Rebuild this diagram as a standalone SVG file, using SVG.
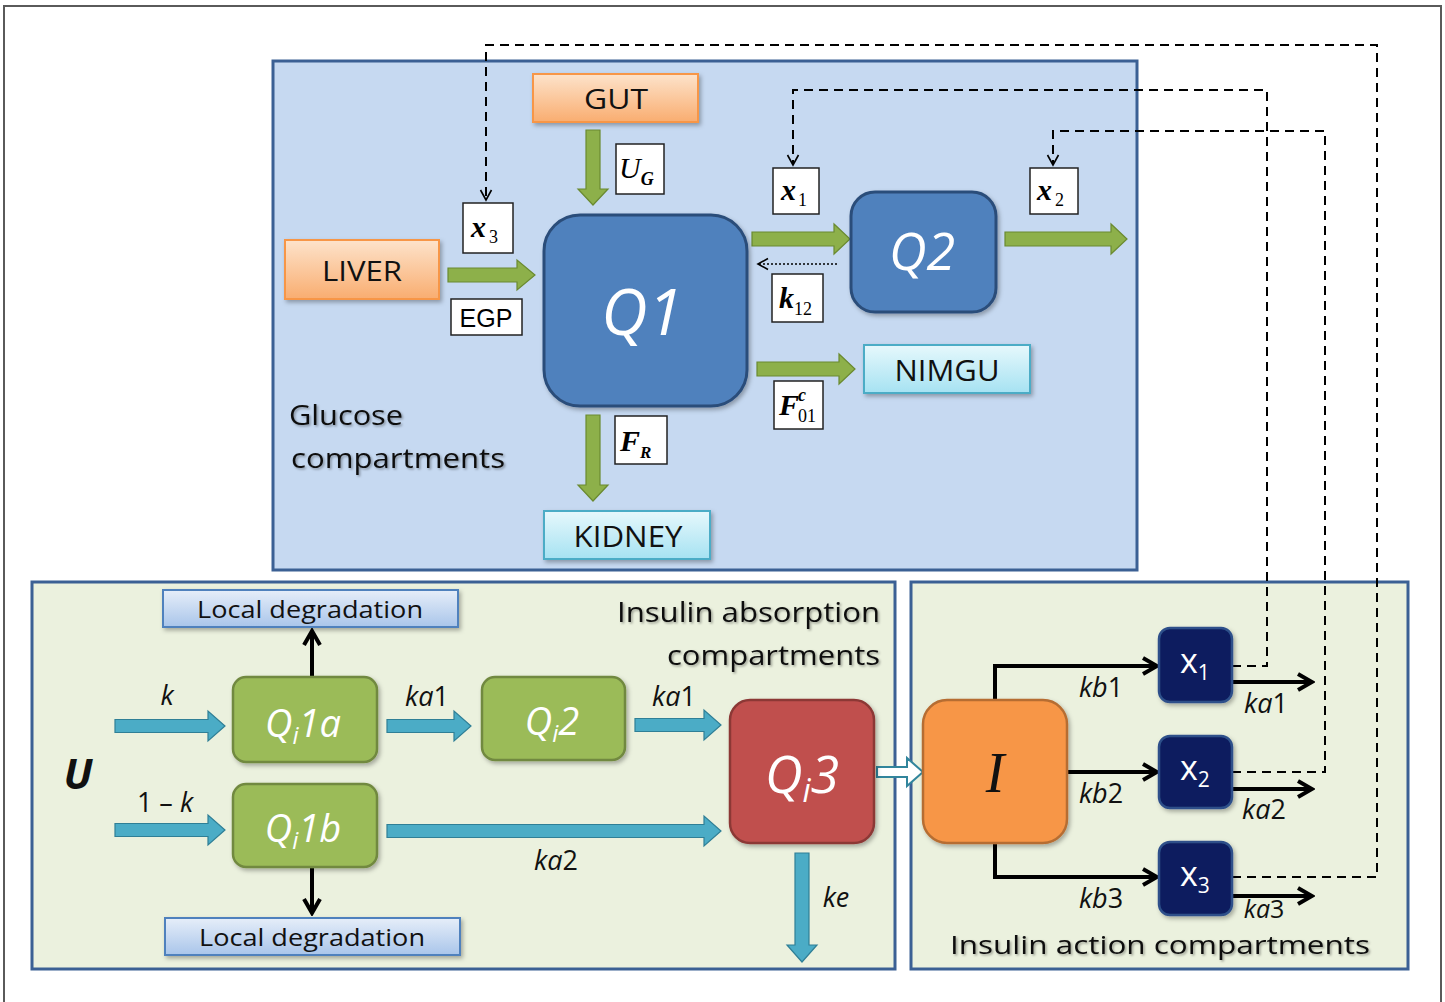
<svg xmlns="http://www.w3.org/2000/svg" width="1445" height="1002" viewBox="0 0 1445 1002">
<defs>
<linearGradient id="gOr" x1="0" y1="0" x2="0" y2="1"><stop offset="0" stop-color="#fde3cb"/><stop offset="1" stop-color="#f9ad70"/></linearGradient>
<linearGradient id="gCy" x1="0" y1="0" x2="0" y2="1"><stop offset="0" stop-color="#e6f8fc"/><stop offset="1" stop-color="#a6e2f2"/></linearGradient>
<linearGradient id="gBl" x1="0" y1="0" x2="0" y2="1"><stop offset="0" stop-color="#e6eef9"/><stop offset="1" stop-color="#a9c5ea"/></linearGradient>
<filter id="sh" x="-10%" y="-10%" width="125%" height="130%"><feDropShadow dx="2" dy="2.5" stdDeviation="2" flood-color="#000" flood-opacity="0.3"/></filter>
<filter id="tsh" x="-5%" y="-20%" width="110%" height="150%"><feDropShadow dx="1.5" dy="1.5" stdDeviation="1.2" flood-color="#000" flood-opacity="0.35"/></filter>
<marker id="chev" viewBox="0 0 20 20" refX="17" refY="10" markerWidth="20" markerHeight="20" markerUnits="userSpaceOnUse" orient="auto"><path d="M3,2 L17,10 L3,18" fill="none" stroke="#000" stroke-width="4"/></marker>
<marker id="dchev" viewBox="0 0 14 14" refX="12" refY="7" markerWidth="14" markerHeight="14" markerUnits="userSpaceOnUse" orient="auto"><path d="M2,1.5 L12,7 L2,12.5" fill="none" stroke="#000" stroke-width="1.6"/></marker>
<style>
.frame{fill:#fff;stroke:#5a5a5a;stroke-width:2}
.gpanel{fill:#c6d9f1;stroke:#3b6094;stroke-width:3}
.ipanel{fill:#ebf1de;stroke:#3b6094;stroke-width:3}
.orange{fill:url(#gOr);stroke:#f79646;stroke-width:2}
.cyan{fill:url(#gCy);stroke:#4bacc6;stroke-width:2}
.ldeg{fill:url(#gBl);stroke:#4f81bd;stroke-width:2}
.qblue{fill:#4f81bd;stroke:#2c4d7a;stroke-width:3}
.qgreen{fill:#9bbb59;stroke:#71893f;stroke-width:2.5}
.qred{fill:#c0504d;stroke:#8c3836;stroke-width:2.5}
.iorange{fill:#f79646;stroke:#b66d31;stroke-width:2.5}
.xnavy{fill:#0c1f5e;stroke:#2d4f8a;stroke-width:2.5}
.mbox{fill:#fff;stroke:#222;stroke-width:1.5}
.garrow{fill:#8db04a;stroke:#6a8a30;stroke-width:1.2}
.barrow{fill:#4bacc6;stroke:#2f7f96;stroke-width:1.2}
.harrow{fill:#fff;stroke:#31859c;stroke-width:2}
.blk{fill:none;stroke:#000;stroke-width:4}
.dash{fill:none;stroke:#000;stroke-width:2;stroke-dasharray:9 6}
.dot{fill:none;stroke:#000;stroke-width:1.6;stroke-dasharray:2 2}
.lbl{font-family:"Open Sans","Liberation Sans",sans-serif;fill:#111}
.it{font-family:"Open Sans","Liberation Sans",sans-serif;font-style:italic;fill:#111;font-size:27px}
.qt{font-family:"Open Sans","Liberation Sans",sans-serif;font-style:italic;fill:#fff;text-anchor:middle}
.math{font-family:"Liberation Serif",serif;font-weight:bold;font-style:italic;fill:#000;font-size:30px}
.sub{font-family:"Liberation Serif",serif;font-weight:normal;font-style:normal;font-size:18px}
</style>
</defs>

<rect class="frame" x="4" y="6" width="1437" height="1010"/>

<g id="panel-glucose"><rect class="gpanel" x="273" y="61" width="864" height="509"/></g>
<g id="panel-absorption"><rect class="ipanel" x="32" y="582" width="863" height="387"/></g>
<g id="panel-action"><rect class="ipanel" x="911" y="582" width="497" height="387"/></g>

<g id="connectors">
  <polygon class="garrow" points="600,130 600,189 608,189 593,205 578,189 586,189 586,130"/>
  <polygon class="garrow" points="448,268 517,268 517,260 535,275 517,290 517,282 448,282"/>
  <polygon class="garrow" points="752,232 834,232 834,224 850,239 834,254 834,246 752,246"/>
  <polygon class="garrow" points="1005,232 1111,232 1111,224 1127,239 1111,254 1111,246 1005,246"/>
  <polygon class="garrow" points="757,362 839,362 839,354 855,369 839,384 839,376 757,376"/>
  <polygon class="garrow" points="586,415 586,485 578,485 593,501 608,485 600,485 600,415"/>
  <path class="dot" d="M837,264 H758" marker-end="url(#dchev)"/>

  <path class="dash" d="M1232,877 H1377 V45 H486 V200" marker-end="url(#dchev)"/>
  <path class="dash" d="M1232,666 H1267 V90 H793 V165" marker-end="url(#dchev)"/>
  <path class="dash" d="M1232,772 H1325 V131 H1053 V165" marker-end="url(#dchev)"/>

  <polygon class="barrow" points="115,719.5 208,719.5 208,711 225,726 208,741 208,732.5 115,732.5"/>
  <polygon class="barrow" points="387,719.5 454,719.5 454,711 471,726 454,741 454,732.5 387,732.5"/>
  <polygon class="barrow" points="635,718.5 704,718.5 704,710 721,725 704,740 704,731.5 635,731.5"/>
  <polygon class="barrow" points="115,823.5 208,823.5 208,815 225,830 208,845 208,836.5 115,836.5"/>
  <polygon class="barrow" points="387,824.5 704,824.5 704,816 721,831 704,846 704,837.5 387,837.5"/>
  <polygon class="barrow" points="795,853 795,945 787,945 802,962 817,945 809,945 809,853"/>
  <polygon class="harrow" points="877,767 907,767 907,758 923,772 907,786 907,777 877,777"/>

  <path class="blk" d="M312,676 V631" marker-end="url(#chev)"/>
  <path class="blk" d="M312,868 V913" marker-end="url(#chev)"/>

  <path class="blk" d="M995,701 V666 H1157" marker-end="url(#chev)"/>
  <path class="blk" d="M1067,772 H1157" marker-end="url(#chev)"/>
  <path class="blk" d="M995,843 V877 H1157" marker-end="url(#chev)"/>
  <path class="blk" d="M1232,682 H1312" marker-end="url(#chev)"/>
  <path class="blk" d="M1232,789 H1312" marker-end="url(#chev)"/>
  <path class="blk" d="M1232,896 H1312" marker-end="url(#chev)"/>
</g>

<g id="gut"><rect class="orange" x="533" y="74" width="165" height="48" filter="url(#sh)"/><text class="lbl" x="616" y="109" font-size="27" text-anchor="middle" textLength="64" lengthAdjust="spacingAndGlyphs">GUT</text></g>
<g id="liver"><rect class="orange" x="285" y="240" width="154" height="59" filter="url(#sh)"/><text class="lbl" x="362" y="281" font-size="27" text-anchor="middle" textLength="80" lengthAdjust="spacingAndGlyphs">LIVER</text></g>
<g id="q1"><rect class="qblue" x="544" y="215" width="203" height="191" rx="36" filter="url(#sh)"/><text class="qt" x="642" y="335" font-size="64">Q1</text></g>
<g id="q2"><rect class="qblue" x="851" y="192" width="145" height="120" rx="24" filter="url(#sh)"/><text class="qt" x="922" y="270" font-size="52">Q2</text></g>
<g id="nimgu"><rect class="cyan" x="864" y="345" width="166" height="48" filter="url(#sh)"/><text class="lbl" x="947" y="381" font-size="29" text-anchor="middle" textLength="105" lengthAdjust="spacingAndGlyphs">NIMGU</text></g>
<g id="kidney"><rect class="cyan" x="544" y="511" width="166" height="48" filter="url(#sh)"/><text class="lbl" x="628" y="547" font-size="29" text-anchor="middle" textLength="109" lengthAdjust="spacingAndGlyphs">KIDNEY</text></g>

<g id="lbl-ug"><rect class="mbox" x="616" y="144" width="48" height="50"/><text class="math" x="619" y="178" style="font-weight:normal">U<tspan class="sub" dy="7" style="font-style:italic;font-weight:bold" font-size="17">G</tspan></text></g>
<g id="lbl-x3"><rect class="mbox" x="463" y="203" width="50" height="50"/><text class="math" x="471" y="237">x<tspan class="sub" dx="3" dy="6">3</tspan></text></g>
<g id="lbl-egp"><rect class="mbox" x="451" y="299" width="71" height="36"/><text x="486" y="327" font-family="Liberation Sans, Arial, sans-serif" font-size="25" text-anchor="middle" fill="#000">EGP</text></g>
<g id="lbl-x1"><rect class="mbox" x="773" y="168" width="46" height="46"/><text class="math" x="781" y="200">x<tspan class="sub" dx="2" dy="6">1</tspan></text></g>
<g id="lbl-k12"><rect class="mbox" x="772" y="274" width="51" height="48"/><text class="math" x="779" y="308">k<tspan class="sub" dy="7">12</tspan></text></g>
<g id="lbl-x2"><rect class="mbox" x="1030" y="168" width="48" height="46"/><text class="math" x="1037" y="200">x<tspan class="sub" dx="3" dy="6">2</tspan></text></g>
<g id="lbl-f01"><rect class="mbox" x="774" y="381" width="49" height="48"/><text class="math" x="779" y="415">F<tspan class="sub" dx="-1" dy="-14" style="font-style:italic;font-weight:bold" font-size="14">c</tspan><tspan class="sub" dx="-8" dy="21" font-size="16">01</tspan></text></g>
<g id="lbl-fr"><rect class="mbox" x="615" y="416" width="52" height="48"/><text class="math" x="620" y="451">F<tspan font-size="17" dy="7">R</tspan></text></g>

<text class="lbl" x="289" y="425" font-size="28" filter="url(#tsh)" textLength="114" lengthAdjust="spacingAndGlyphs">Glucose</text>
<text class="lbl" x="291" y="468" font-size="28" filter="url(#tsh)" textLength="214" lengthAdjust="spacingAndGlyphs">compartments</text>

<g id="ldeg-top"><rect class="ldeg" x="163" y="590" width="295" height="37" filter="url(#sh)"/><text class="lbl" x="310" y="618" font-size="23" text-anchor="middle" textLength="226" lengthAdjust="spacingAndGlyphs">Local degradation</text></g>
<g id="ldeg-bot"><rect class="ldeg" x="165" y="918" width="295" height="37" filter="url(#sh)"/><text class="lbl" x="312" y="946" font-size="23" text-anchor="middle" textLength="226" lengthAdjust="spacingAndGlyphs">Local degradation</text></g>
<g id="qi1a"><rect class="qgreen" x="233" y="677" width="144" height="85" rx="13" filter="url(#sh)"/><text class="qt" x="303" y="737" font-size="38">Q<tspan font-size="24" dy="7">i</tspan><tspan dy="-7">1a</tspan></text></g>
<g id="qi2"><rect class="qgreen" x="482" y="677" width="143" height="83" rx="13" filter="url(#sh)"/><text class="qt" x="552" y="735" font-size="38">Q<tspan font-size="24" dy="7">i</tspan><tspan dy="-7">2</tspan></text></g>
<g id="qi1b"><rect class="qgreen" x="233" y="784" width="144" height="83" rx="13" filter="url(#sh)"/><text class="qt" x="303" y="842" font-size="38">Q<tspan font-size="24" dy="7">i</tspan><tspan dy="-7">1b</tspan></text></g>
<g id="qi3"><rect class="qred" x="730" y="700" width="144" height="143" rx="20" filter="url(#sh)"/><text class="qt" x="802" y="793" font-size="52">Q<tspan font-size="32" dy="9">i</tspan><tspan dy="-9">3</tspan></text></g>

<text class="lbl" x="78" y="789" font-size="42" font-weight="bold" font-style="italic" text-anchor="middle">U</text>
<text class="it" x="167" y="705" text-anchor="middle">k</text>
<text class="it" x="427" y="706" text-anchor="middle">ka<tspan font-style="normal">1</tspan></text>
<text class="it" x="674" y="706" text-anchor="middle">ka<tspan font-style="normal">1</tspan></text>
<text class="it" x="165" y="812" text-anchor="middle" style="font-style:normal">1 – <tspan font-style="italic">k</tspan></text>
<text class="it" x="556" y="870" text-anchor="middle">ka<tspan font-style="normal">2</tspan></text>
<text class="it" x="836" y="907" text-anchor="middle">ke</text>
<text class="lbl" x="880" y="622" font-size="28" text-anchor="end" filter="url(#tsh)" textLength="263" lengthAdjust="spacingAndGlyphs">Insulin absorption</text>
<text class="lbl" x="880" y="665" font-size="28" text-anchor="end" filter="url(#tsh)" textLength="213" lengthAdjust="spacingAndGlyphs">compartments</text>

<g id="i-node"><rect class="iorange" x="923" y="700" width="144" height="143" rx="24" filter="url(#sh)"/><text x="995" y="792" font-family="Liberation Serif, serif" font-style="italic" font-size="56" text-anchor="middle" fill="#111">I</text></g>
<g id="x1-node"><rect class="xnavy" x="1159" y="628" width="73" height="74" rx="11" filter="url(#sh)"/><text class="lbl" x="1180" y="673" font-size="34" style="fill:#fff">x<tspan font-size="21" dy="7">1</tspan></text></g>
<g id="x2-node"><rect class="xnavy" x="1159" y="736" width="73" height="72" rx="11" filter="url(#sh)"/><text class="lbl" x="1180" y="780" font-size="34" style="fill:#fff">x<tspan font-size="21" dy="7">2</tspan></text></g>
<g id="x3-node"><rect class="xnavy" x="1159" y="842" width="73" height="73" rx="11" filter="url(#sh)"/><text class="lbl" x="1180" y="886" font-size="34" style="fill:#fff">x<tspan font-size="21" dy="7">3</tspan></text></g>

<text class="it" x="1101" y="697" text-anchor="middle">kb<tspan font-style="normal">1</tspan></text>
<text class="it" x="1101" y="803" text-anchor="middle">kb<tspan font-style="normal">2</tspan></text>
<text class="it" x="1101" y="908" text-anchor="middle">kb<tspan font-style="normal">3</tspan></text>
<text class="it" x="1266" y="713" text-anchor="middle">ka<tspan font-style="normal">1</tspan></text>
<text class="it" x="1264" y="819" text-anchor="middle">ka<tspan font-style="normal">2</tspan></text>
<text class="it" x="1264" y="918" text-anchor="middle" style="font-size:25px">ka<tspan font-style="normal">3</tspan></text>
<text class="lbl" x="950" y="954" font-size="26" filter="url(#tsh)" textLength="420" lengthAdjust="spacingAndGlyphs">Insulin action compartments</text>
</svg>
